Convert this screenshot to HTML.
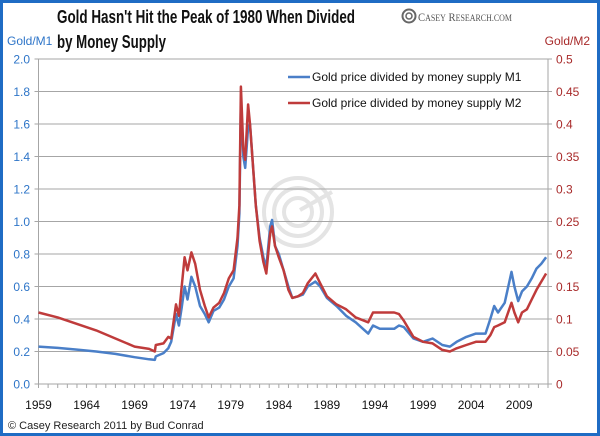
<!DOCTYPE html>
<html><head><meta charset="utf-8"><style>
body{margin:0;background:#fff}
#wrap{position:relative;width:600px;height:436px;overflow:hidden;font-family:"Liberation Sans",sans-serif}
svg text{font-family:"Liberation Sans",sans-serif}
</style></head><body>
<div id="wrap">
<svg id="chart" width="600" height="436" viewBox="0 0 600 436">
<rect x="1.5" y="1.5" width="597" height="433" fill="#fff" stroke="#1f6cc4" stroke-width="3"/>
<text x="57" y="23" font-size="18" font-weight="bold" fill="#111" textLength="298" lengthAdjust="spacingAndGlyphs">Gold Hasn't Hit the Peak of 1980 When Divided</text>
<text x="57" y="48" font-size="18" font-weight="bold" fill="#111" textLength="109" lengthAdjust="spacingAndGlyphs">by Money Supply</text>
<g>
<circle cx="409" cy="16" r="6.5" fill="none" stroke="#666" stroke-width="2"/>
<circle cx="409" cy="16" r="3" fill="none" stroke="#666" stroke-width="1.5"/>
<text x="418" y="21" font-size="12" fill="#555" textLength="94" lengthAdjust="spacingAndGlyphs" style="font-family:'Liberation Serif',serif">C<tspan font-size="9">ASEY</tspan> R<tspan font-size="9">ESEARCH.COM</tspan></text>
</g>
<text x="7" y="45" font-size="12" fill="#2e75c8">Gold/M1</text>
<text x="590" y="45" font-size="12" fill="#a82a2a" text-anchor="end">Gold/M2</text>
<g fill="none" stroke="#e4e4e4" stroke-width="4">
<circle cx="298" cy="212" r="34"/><circle cx="298" cy="212" r="24"/><circle cx="298" cy="212" r="14"/><line x1="300" y1="210" x2="332" y2="192"/>
</g>
<g id="grid"></g><g id="axes"></g><g id="series"></g>
<g>
<line x1="288" y1="77" x2="310" y2="77" stroke="#4a7fc8" stroke-width="2.5"/>
<text x="312" y="81" font-size="12" fill="#111">Gold price divided by money supply M1</text>
<line x1="288" y1="103" x2="310" y2="103" stroke="#bf3b3b" stroke-width="2.5"/>
<text x="312" y="107" font-size="12" fill="#111">Gold price divided by money supply M2</text>
</g>
<text x="8" y="429" font-size="11" fill="#222">© Casey Research 2011 by Bud Conrad</text>
</svg>
</div>
<script>
const years=[1959,1961,1963,1965,1967,1969,1970.5,1971.1,1971.2,1972,1972.5,1972.8,1973.3,1973.6,1973.9,1974.2,1974.5,1974.9,1975.3,1975.8,1976.3,1976.7,1977.2,1977.8,1978.3,1978.8,1979.3,1979.7,1979.9,1980.05,1980.3,1980.5,1980.8,1981.0,1981.3,1981.6,1982,1982.4,1982.7,1983.1,1983.3,1983.6,1984,1984.5,1985,1985.4,1986,1986.5,1987,1987.8,1988.3,1989,1990,1991,1992,1993.3,1993.8,1994.5,1996,1996.5,1997,1998,1999,2000,2001,2001.8,2002.5,2003.5,2004.5,2005.5,2006,2006.4,2006.8,2007.5,2008.2,2008.5,2008.9,2009.3,2009.8,2010.3,2010.8,2011.3,2011.8];
const goldM1=[0.23,0.222,0.212,0.2,0.185,0.165,0.152,0.148,0.17,0.19,0.22,0.26,0.43,0.36,0.47,0.6,0.52,0.66,0.6,0.48,0.43,0.38,0.45,0.47,0.52,0.6,0.65,0.85,1.05,1.75,1.4,1.33,1.58,1.6,1.35,1.1,0.9,0.78,0.72,0.97,1.01,0.85,0.8,0.7,0.6,0.53,0.54,0.55,0.6,0.63,0.6,0.53,0.48,0.42,0.38,0.31,0.36,0.34,0.34,0.36,0.35,0.28,0.26,0.28,0.24,0.23,0.26,0.29,0.31,0.31,0.4,0.48,0.44,0.5,0.69,0.6,0.51,0.57,0.6,0.65,0.71,0.74,0.78];
const goldM2=[0.11,0.1025,0.0925,0.0825,0.07,0.0575,0.054,0.05,0.06,0.0625,0.0725,0.07,0.1225,0.105,0.15,0.195,0.175,0.2025,0.185,0.145,0.12,0.1025,0.1175,0.125,0.14,0.1625,0.175,0.225,0.275,0.4575,0.3625,0.345,0.43,0.4,0.3375,0.275,0.22,0.1875,0.17,0.2325,0.2425,0.2125,0.195,0.175,0.145,0.1325,0.135,0.14,0.155,0.17,0.155,0.135,0.1225,0.115,0.1025,0.095,0.11,0.11,0.11,0.1075,0.0975,0.0725,0.065,0.0625,0.0525,0.05,0.055,0.06,0.065,0.065,0.075,0.0875,0.09,0.095,0.125,0.11,0.095,0.11,0.115,0.13,0.145,0.1575,0.17];
const leftTicks=["0.0","0.2","0.4","0.6","0.8","1.0","1.2","1.4","1.6","1.8","2.0"];
const rightTicks=["0","0.05","0.1","0.15","0.2","0.25","0.3","0.35","0.4","0.45","0.5"];
const yearLabels=[1959,1964,1969,1974,1979,1984,1989,1994,1999,2004,2009];

const X0=38.5,X1=548,Y0=384,Y1=59,T0=1959,T1=2012;
const xs=t=>X0+(t-T0)/(T1-T0)*(X1-X0);
const yL=v=>Y0-v/2*(Y0-Y1);
const yR=v=>Y0-v/0.5*(Y0-Y1);
const NS="http://www.w3.org/2000/svg";
function mk(tag,attrs,parent,text){const e=document.createElementNS(NS,tag);for(const k in attrs)e.setAttribute(k,attrs[k]);if(text!==undefined)e.textContent=text;parent.appendChild(e);return e;}
const grid=document.getElementById('grid'),axes=document.getElementById('axes'),ser=document.getElementById('series');
leftTicks.forEach((lab,i)=>{
  const v=parseFloat(lab),y=yL(v);
  if(i>0){const g=mk('line',{x1:X0,x2:X1,y1:y,y2:y,stroke:'#a6a6a6','stroke-width':1},grid);
  
  }
  const t=mk('text',{x:30,y:y+4.5,'font-size':12,fill:'#2e75c8','text-anchor':'end'},axes,lab);
  
  
  const tk=mk('line',{x1:X0-4,x2:X0,y1:y,y2:y,stroke:'#a6a6a6'},axes);
  
  
});
rightTicks.forEach(lab=>{
  const y=yR(parseFloat(lab));
  const t=mk('text',{x:556,y:y+4.5,'font-size':12,fill:'#a82a2a'},axes,lab);
  
  
  const tk=mk('line',{x1:X1,x2:X1+4,y1:y,y2:y,stroke:'#a6a6a6'},axes);
  
  
});
const la=mk('line',{x1:X0,x2:X0,y1:Y1,y2:Y0,stroke:'#a6a6a6'},axes);


const ra=mk('line',{x1:X1,x2:X1,y1:Y1,y2:Y0,stroke:'#a6a6a6'},axes);


const xa=mk('line',{x1:X0,x2:X1,y1:Y0,y2:Y0,stroke:'#a6a6a6'},axes);


for(let t=T0;t<=T1;t++){const tk=mk('line',{x1:xs(t),x2:xs(t),y1:Y0,y2:Y0+4,stroke:'#a6a6a6'},axes);
  
  }
yearLabels.forEach(yr=>{const t=mk('text',{x:xs(yr),y:409,'font-size':12,fill:'#111','text-anchor':'middle'},axes,String(yr));
  
  });
function path(vals,yf){return vals.map((v,i)=>(i?'L':'M')+xs(years[i]).toFixed(1)+','+yf(v).toFixed(1)).join(' ');}
const p1=mk('path',{d:path(goldM1,yL),fill:'none',stroke:'#4a7fc8','stroke-width':2.5,'stroke-linejoin':'round'},ser);


const p2=mk('path',{d:path(goldM2,yR),fill:'none',stroke:'#bf3b3b','stroke-width':2.5,'stroke-linejoin':'round'},ser);


</script>
</body></html>
